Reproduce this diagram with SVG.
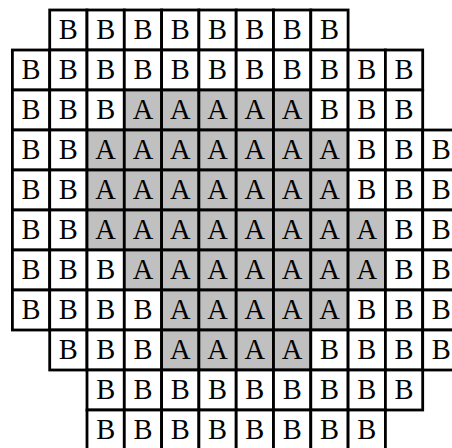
<svg xmlns="http://www.w3.org/2000/svg" width="452" height="448" viewBox="0 0 452 448">
<style>
rect{stroke:#000;stroke-width:2.8}
.b rect{fill:#fff}
.a rect{fill:#c0c0c0}
text{font-family:"Liberation Serif","Times New Roman",serif;font-size:28.5px;text-anchor:middle;fill:#000}
</style>
<rect x="0" y="0" width="452" height="448" style="fill:#fff;stroke:none"/>
<g id="grid">
<!-- row 0 -->
<g id="r0c1" class="b" transform="translate(49.7,10)"><rect width="37.3" height="40"/><text x="18.65" y="28.7">B</text></g>
<g id="r0c2" class="b" transform="translate(87,10)"><rect width="37.3" height="40"/><text x="18.65" y="28.7">B</text></g>
<g id="r0c3" class="b" transform="translate(124.3,10)"><rect width="37.3" height="40"/><text x="18.65" y="28.7">B</text></g>
<g id="r0c4" class="b" transform="translate(161.6,10)"><rect width="37.3" height="40"/><text x="18.65" y="28.7">B</text></g>
<g id="r0c5" class="b" transform="translate(198.9,10)"><rect width="37.3" height="40"/><text x="18.65" y="28.7">B</text></g>
<g id="r0c6" class="b" transform="translate(236.2,10)"><rect width="37.3" height="40"/><text x="18.65" y="28.7">B</text></g>
<g id="r0c7" class="b" transform="translate(273.5,10)"><rect width="37.3" height="40"/><text x="18.65" y="28.7">B</text></g>
<g id="r0c8" class="b" transform="translate(310.8,10)"><rect width="37.3" height="40"/><text x="18.65" y="28.7">B</text></g>
<!-- row 1 -->
<g id="r1c0" class="b" transform="translate(12.4,50)"><rect width="37.3" height="40"/><text x="18.65" y="28.7">B</text></g>
<g id="r1c1" class="b" transform="translate(49.7,50)"><rect width="37.3" height="40"/><text x="18.65" y="28.7">B</text></g>
<g id="r1c2" class="b" transform="translate(87,50)"><rect width="37.3" height="40"/><text x="18.65" y="28.7">B</text></g>
<g id="r1c3" class="b" transform="translate(124.3,50)"><rect width="37.3" height="40"/><text x="18.65" y="28.7">B</text></g>
<g id="r1c4" class="b" transform="translate(161.6,50)"><rect width="37.3" height="40"/><text x="18.65" y="28.7">B</text></g>
<g id="r1c5" class="b" transform="translate(198.9,50)"><rect width="37.3" height="40"/><text x="18.65" y="28.7">B</text></g>
<g id="r1c6" class="b" transform="translate(236.2,50)"><rect width="37.3" height="40"/><text x="18.65" y="28.7">B</text></g>
<g id="r1c7" class="b" transform="translate(273.5,50)"><rect width="37.3" height="40"/><text x="18.65" y="28.7">B</text></g>
<g id="r1c8" class="b" transform="translate(310.8,50)"><rect width="37.3" height="40"/><text x="18.65" y="28.7">B</text></g>
<g id="r1c9" class="b" transform="translate(348.1,50)"><rect width="37.3" height="40"/><text x="18.65" y="28.7">B</text></g>
<g id="r1c10" class="b" transform="translate(385.4,50)"><rect width="37.3" height="40"/><text x="18.65" y="28.7">B</text></g>
<!-- row 2 -->
<g id="r2c0" class="b" transform="translate(12.4,90)"><rect width="37.3" height="40"/><text x="18.65" y="28.7">B</text></g>
<g id="r2c1" class="b" transform="translate(49.7,90)"><rect width="37.3" height="40"/><text x="18.65" y="28.7">B</text></g>
<g id="r2c2" class="b" transform="translate(87,90)"><rect width="37.3" height="40"/><text x="18.65" y="28.7">B</text></g>
<g id="r2c3" class="a" transform="translate(124.3,90)"><rect width="37.3" height="40"/><text x="18.65" y="28.7">A</text></g>
<g id="r2c4" class="a" transform="translate(161.6,90)"><rect width="37.3" height="40"/><text x="18.65" y="28.7">A</text></g>
<g id="r2c5" class="a" transform="translate(198.9,90)"><rect width="37.3" height="40"/><text x="18.65" y="28.7">A</text></g>
<g id="r2c6" class="a" transform="translate(236.2,90)"><rect width="37.3" height="40"/><text x="18.65" y="28.7">A</text></g>
<g id="r2c7" class="a" transform="translate(273.5,90)"><rect width="37.3" height="40"/><text x="18.65" y="28.7">A</text></g>
<g id="r2c8" class="b" transform="translate(310.8,90)"><rect width="37.3" height="40"/><text x="18.65" y="28.7">B</text></g>
<g id="r2c9" class="b" transform="translate(348.1,90)"><rect width="37.3" height="40"/><text x="18.65" y="28.7">B</text></g>
<g id="r2c10" class="b" transform="translate(385.4,90)"><rect width="37.3" height="40"/><text x="18.65" y="28.7">B</text></g>
<!-- row 3 -->
<g id="r3c0" class="b" transform="translate(12.4,130)"><rect width="37.3" height="40"/><text x="18.65" y="28.7">B</text></g>
<g id="r3c1" class="b" transform="translate(49.7,130)"><rect width="37.3" height="40"/><text x="18.65" y="28.7">B</text></g>
<g id="r3c2" class="a" transform="translate(87,130)"><rect width="37.3" height="40"/><text x="18.65" y="28.7">A</text></g>
<g id="r3c3" class="a" transform="translate(124.3,130)"><rect width="37.3" height="40"/><text x="18.65" y="28.7">A</text></g>
<g id="r3c4" class="a" transform="translate(161.6,130)"><rect width="37.3" height="40"/><text x="18.65" y="28.7">A</text></g>
<g id="r3c5" class="a" transform="translate(198.9,130)"><rect width="37.3" height="40"/><text x="18.65" y="28.7">A</text></g>
<g id="r3c6" class="a" transform="translate(236.2,130)"><rect width="37.3" height="40"/><text x="18.65" y="28.7">A</text></g>
<g id="r3c7" class="a" transform="translate(273.5,130)"><rect width="37.3" height="40"/><text x="18.65" y="28.7">A</text></g>
<g id="r3c8" class="a" transform="translate(310.8,130)"><rect width="37.3" height="40"/><text x="18.65" y="28.7">A</text></g>
<g id="r3c9" class="b" transform="translate(348.1,130)"><rect width="37.3" height="40"/><text x="18.65" y="28.7">B</text></g>
<g id="r3c10" class="b" transform="translate(385.4,130)"><rect width="37.3" height="40"/><text x="18.65" y="28.7">B</text></g>
<g id="r3c11" class="b" transform="translate(422.7,130)"><rect width="37.3" height="40"/><text x="18.65" y="28.7">B</text></g>
<!-- row 4 -->
<g id="r4c0" class="b" transform="translate(12.4,170)"><rect width="37.3" height="40"/><text x="18.65" y="28.7">B</text></g>
<g id="r4c1" class="b" transform="translate(49.7,170)"><rect width="37.3" height="40"/><text x="18.65" y="28.7">B</text></g>
<g id="r4c2" class="a" transform="translate(87,170)"><rect width="37.3" height="40"/><text x="18.65" y="28.7">A</text></g>
<g id="r4c3" class="a" transform="translate(124.3,170)"><rect width="37.3" height="40"/><text x="18.65" y="28.7">A</text></g>
<g id="r4c4" class="a" transform="translate(161.6,170)"><rect width="37.3" height="40"/><text x="18.65" y="28.7">A</text></g>
<g id="r4c5" class="a" transform="translate(198.9,170)"><rect width="37.3" height="40"/><text x="18.65" y="28.7">A</text></g>
<g id="r4c6" class="a" transform="translate(236.2,170)"><rect width="37.3" height="40"/><text x="18.65" y="28.7">A</text></g>
<g id="r4c7" class="a" transform="translate(273.5,170)"><rect width="37.3" height="40"/><text x="18.65" y="28.7">A</text></g>
<g id="r4c8" class="a" transform="translate(310.8,170)"><rect width="37.3" height="40"/><text x="18.65" y="28.7">A</text></g>
<g id="r4c9" class="b" transform="translate(348.1,170)"><rect width="37.3" height="40"/><text x="18.65" y="28.7">B</text></g>
<g id="r4c10" class="b" transform="translate(385.4,170)"><rect width="37.3" height="40"/><text x="18.65" y="28.7">B</text></g>
<g id="r4c11" class="b" transform="translate(422.7,170)"><rect width="37.3" height="40"/><text x="18.65" y="28.7">B</text></g>
<!-- row 5 -->
<g id="r5c0" class="b" transform="translate(12.4,210)"><rect width="37.3" height="40"/><text x="18.65" y="28.7">B</text></g>
<g id="r5c1" class="b" transform="translate(49.7,210)"><rect width="37.3" height="40"/><text x="18.65" y="28.7">B</text></g>
<g id="r5c2" class="a" transform="translate(87,210)"><rect width="37.3" height="40"/><text x="18.65" y="28.7">A</text></g>
<g id="r5c3" class="a" transform="translate(124.3,210)"><rect width="37.3" height="40"/><text x="18.65" y="28.7">A</text></g>
<g id="r5c4" class="a" transform="translate(161.6,210)"><rect width="37.3" height="40"/><text x="18.65" y="28.7">A</text></g>
<g id="r5c5" class="a" transform="translate(198.9,210)"><rect width="37.3" height="40"/><text x="18.65" y="28.7">A</text></g>
<g id="r5c6" class="a" transform="translate(236.2,210)"><rect width="37.3" height="40"/><text x="18.65" y="28.7">A</text></g>
<g id="r5c7" class="a" transform="translate(273.5,210)"><rect width="37.3" height="40"/><text x="18.65" y="28.7">A</text></g>
<g id="r5c8" class="a" transform="translate(310.8,210)"><rect width="37.3" height="40"/><text x="18.65" y="28.7">A</text></g>
<g id="r5c9" class="a" transform="translate(348.1,210)"><rect width="37.3" height="40"/><text x="18.65" y="28.7">A</text></g>
<g id="r5c10" class="b" transform="translate(385.4,210)"><rect width="37.3" height="40"/><text x="18.65" y="28.7">B</text></g>
<g id="r5c11" class="b" transform="translate(422.7,210)"><rect width="37.3" height="40"/><text x="18.65" y="28.7">B</text></g>
<!-- row 6 -->
<g id="r6c0" class="b" transform="translate(12.4,250)"><rect width="37.3" height="40"/><text x="18.65" y="28.7">B</text></g>
<g id="r6c1" class="b" transform="translate(49.7,250)"><rect width="37.3" height="40"/><text x="18.65" y="28.7">B</text></g>
<g id="r6c2" class="b" transform="translate(87,250)"><rect width="37.3" height="40"/><text x="18.65" y="28.7">B</text></g>
<g id="r6c3" class="a" transform="translate(124.3,250)"><rect width="37.3" height="40"/><text x="18.65" y="28.7">A</text></g>
<g id="r6c4" class="a" transform="translate(161.6,250)"><rect width="37.3" height="40"/><text x="18.65" y="28.7">A</text></g>
<g id="r6c5" class="a" transform="translate(198.9,250)"><rect width="37.3" height="40"/><text x="18.65" y="28.7">A</text></g>
<g id="r6c6" class="a" transform="translate(236.2,250)"><rect width="37.3" height="40"/><text x="18.65" y="28.7">A</text></g>
<g id="r6c7" class="a" transform="translate(273.5,250)"><rect width="37.3" height="40"/><text x="18.65" y="28.7">A</text></g>
<g id="r6c8" class="a" transform="translate(310.8,250)"><rect width="37.3" height="40"/><text x="18.65" y="28.7">A</text></g>
<g id="r6c9" class="a" transform="translate(348.1,250)"><rect width="37.3" height="40"/><text x="18.65" y="28.7">A</text></g>
<g id="r6c10" class="b" transform="translate(385.4,250)"><rect width="37.3" height="40"/><text x="18.65" y="28.7">B</text></g>
<g id="r6c11" class="b" transform="translate(422.7,250)"><rect width="37.3" height="40"/><text x="18.65" y="28.7">B</text></g>
<!-- row 7 -->
<g id="r7c0" class="b" transform="translate(12.4,290)"><rect width="37.3" height="40"/><text x="18.65" y="28.7">B</text></g>
<g id="r7c1" class="b" transform="translate(49.7,290)"><rect width="37.3" height="40"/><text x="18.65" y="28.7">B</text></g>
<g id="r7c2" class="b" transform="translate(87,290)"><rect width="37.3" height="40"/><text x="18.65" y="28.7">B</text></g>
<g id="r7c3" class="b" transform="translate(124.3,290)"><rect width="37.3" height="40"/><text x="18.65" y="28.7">B</text></g>
<g id="r7c4" class="a" transform="translate(161.6,290)"><rect width="37.3" height="40"/><text x="18.65" y="28.7">A</text></g>
<g id="r7c5" class="a" transform="translate(198.9,290)"><rect width="37.3" height="40"/><text x="18.65" y="28.7">A</text></g>
<g id="r7c6" class="a" transform="translate(236.2,290)"><rect width="37.3" height="40"/><text x="18.65" y="28.7">A</text></g>
<g id="r7c7" class="a" transform="translate(273.5,290)"><rect width="37.3" height="40"/><text x="18.65" y="28.7">A</text></g>
<g id="r7c8" class="a" transform="translate(310.8,290)"><rect width="37.3" height="40"/><text x="18.65" y="28.7">A</text></g>
<g id="r7c9" class="b" transform="translate(348.1,290)"><rect width="37.3" height="40"/><text x="18.65" y="28.7">B</text></g>
<g id="r7c10" class="b" transform="translate(385.4,290)"><rect width="37.3" height="40"/><text x="18.65" y="28.7">B</text></g>
<g id="r7c11" class="b" transform="translate(422.7,290)"><rect width="37.3" height="40"/><text x="18.65" y="28.7">B</text></g>
<!-- row 8 -->
<g id="r8c1" class="b" transform="translate(49.7,330)"><rect width="37.3" height="40"/><text x="18.65" y="28.7">B</text></g>
<g id="r8c2" class="b" transform="translate(87,330)"><rect width="37.3" height="40"/><text x="18.65" y="28.7">B</text></g>
<g id="r8c3" class="b" transform="translate(124.3,330)"><rect width="37.3" height="40"/><text x="18.65" y="28.7">B</text></g>
<g id="r8c4" class="a" transform="translate(161.6,330)"><rect width="37.3" height="40"/><text x="18.65" y="28.7">A</text></g>
<g id="r8c5" class="a" transform="translate(198.9,330)"><rect width="37.3" height="40"/><text x="18.65" y="28.7">A</text></g>
<g id="r8c6" class="a" transform="translate(236.2,330)"><rect width="37.3" height="40"/><text x="18.65" y="28.7">A</text></g>
<g id="r8c7" class="a" transform="translate(273.5,330)"><rect width="37.3" height="40"/><text x="18.65" y="28.7">A</text></g>
<g id="r8c8" class="b" transform="translate(310.8,330)"><rect width="37.3" height="40"/><text x="18.65" y="28.7">B</text></g>
<g id="r8c9" class="b" transform="translate(348.1,330)"><rect width="37.3" height="40"/><text x="18.65" y="28.7">B</text></g>
<g id="r8c10" class="b" transform="translate(385.4,330)"><rect width="37.3" height="40"/><text x="18.65" y="28.7">B</text></g>
<g id="r8c11" class="b" transform="translate(422.7,330)"><rect width="37.3" height="40"/><text x="18.65" y="28.7">B</text></g>
<!-- row 9 -->
<g id="r9c2" class="b" transform="translate(87,370)"><rect width="37.3" height="40"/><text x="18.65" y="28.7">B</text></g>
<g id="r9c3" class="b" transform="translate(124.3,370)"><rect width="37.3" height="40"/><text x="18.65" y="28.7">B</text></g>
<g id="r9c4" class="b" transform="translate(161.6,370)"><rect width="37.3" height="40"/><text x="18.65" y="28.7">B</text></g>
<g id="r9c5" class="b" transform="translate(198.9,370)"><rect width="37.3" height="40"/><text x="18.65" y="28.7">B</text></g>
<g id="r9c6" class="b" transform="translate(236.2,370)"><rect width="37.3" height="40"/><text x="18.65" y="28.7">B</text></g>
<g id="r9c7" class="b" transform="translate(273.5,370)"><rect width="37.3" height="40"/><text x="18.65" y="28.7">B</text></g>
<g id="r9c8" class="b" transform="translate(310.8,370)"><rect width="37.3" height="40"/><text x="18.65" y="28.7">B</text></g>
<g id="r9c9" class="b" transform="translate(348.1,370)"><rect width="37.3" height="40"/><text x="18.65" y="28.7">B</text></g>
<g id="r9c10" class="b" transform="translate(385.4,370)"><rect width="37.3" height="40"/><text x="18.65" y="28.7">B</text></g>
<!-- row 10 -->
<g id="r10c2" class="b" transform="translate(87,410)"><rect width="37.3" height="40"/><text x="18.65" y="28.7">B</text></g>
<g id="r10c3" class="b" transform="translate(124.3,410)"><rect width="37.3" height="40"/><text x="18.65" y="28.7">B</text></g>
<g id="r10c4" class="b" transform="translate(161.6,410)"><rect width="37.3" height="40"/><text x="18.65" y="28.7">B</text></g>
<g id="r10c5" class="b" transform="translate(198.9,410)"><rect width="37.3" height="40"/><text x="18.65" y="28.7">B</text></g>
<g id="r10c6" class="b" transform="translate(236.2,410)"><rect width="37.3" height="40"/><text x="18.65" y="28.7">B</text></g>
<g id="r10c7" class="b" transform="translate(273.5,410)"><rect width="37.3" height="40"/><text x="18.65" y="28.7">B</text></g>
<g id="r10c8" class="b" transform="translate(310.8,410)"><rect width="37.3" height="40"/><text x="18.65" y="28.7">B</text></g>
<g id="r10c9" class="b" transform="translate(348.1,410)"><rect width="37.3" height="40"/><text x="18.65" y="28.7">B</text></g>
</g>
</svg>
